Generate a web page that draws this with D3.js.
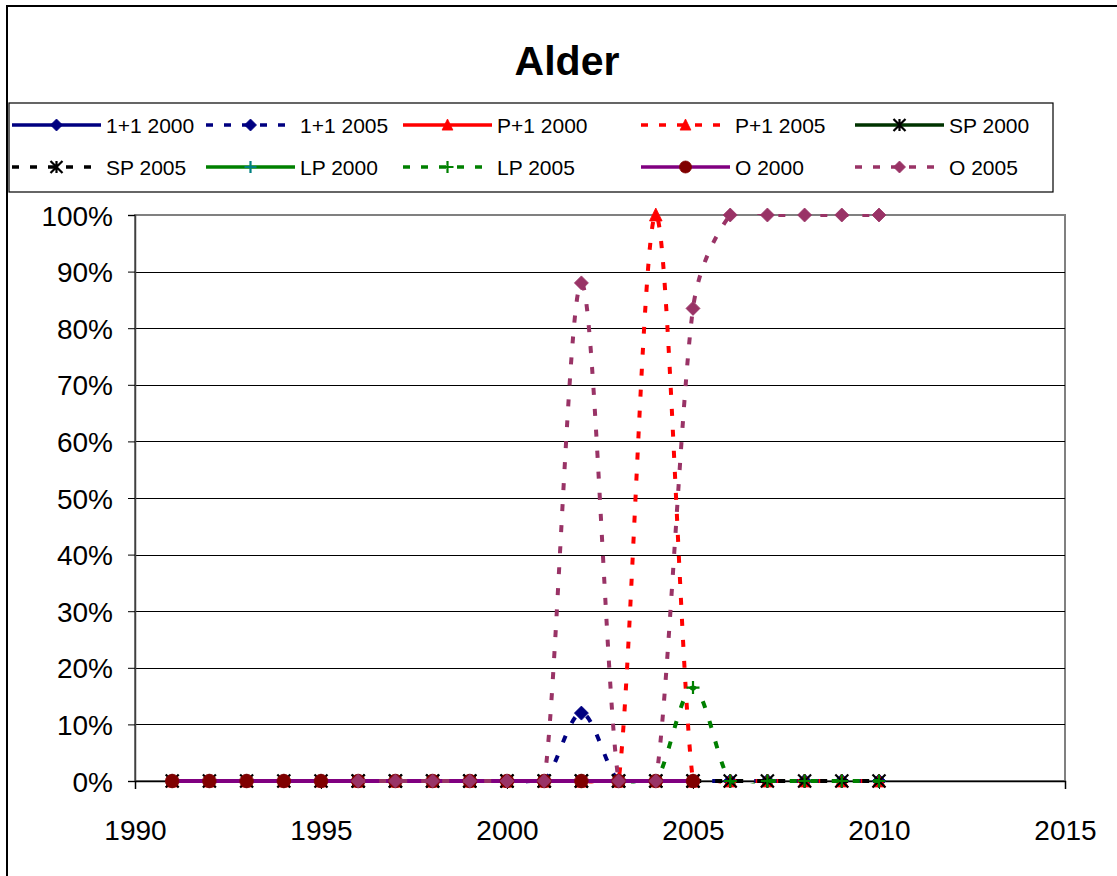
<!DOCTYPE html>
<html>
<head>
<meta charset="utf-8">
<script src="https://cdn.jsdelivr.net/npm/d3@7"></script>
<style>
  body { margin: 0; background: #fff; }
  svg { display: block; }
  text { font-family: "Liberation Sans", Arial, sans-serif; fill: #000; }
</style>
</head>
<body>
<svg id="chart" width="1117" height="876"></svg>
<script>
// ---- data -------------------------------------------------------------
const chartTitle = "Alder";

const years2000 = [1991, 1992, 1993, 1994, 1995, 1996, 1997, 1998, 1999, 2000, 2001, 2002, 2003, 2004, 2005];
const years2005 = [1996, 1997, 1998, 1999, 2000, 2001, 2002, 2003, 2004, 2005, 2006, 2007, 2008, 2009, 2010];

const oneOne2000 = [0, 0, 0, 0, 0, 0, 0, 0, 0, 0, 0, 0, 0, 0, 0];
const oneOne2005 = [0, 0, 0, 0, 0, 0, 0.12, 0, 0, 0, 0, 0, 0, 0, 0];
const pOne2000   = [0, 0, 0, 0, 0, 0, 0, 0, 0, 0, 0, 0, 0, 0, 0];
const pOne2005   = [0, 0, 0, 0, 0, 0, 0, 0, 1.00, 0, 0, 0, 0, 0, 0];
const sp2000     = [0, 0, 0, 0, 0, 0, 0, 0, 0, 0, 0, 0, 0, 0, 0];
const sp2005     = [0, 0, 0, 0, 0, 0, 0, 0, 0, 0, 0, 0, 0, 0, 0];
const lp2000     = [0, 0, 0, 0, 0, 0, 0, 0, 0, 0, 0, 0, 0, 0, 0];
const lp2005     = [0, 0, 0, 0, 0, 0, 0, 0, 0, 0.165, 0, 0, 0, 0, 0];
const o2000      = [0, 0, 0, 0, 0, 0, 0, 0, 0, 0, 0, 0, 0, 0, 0];
const o2005      = [0, 0, 0, 0, 0, 0, 0.88, 0, 0, 0.835, 1.00, 1.00, 1.00, 1.00, 1.00];

const seriesNames = ["1+1 2000", "1+1 2005", "P+1 2000", "P+1 2005", "SP 2000",
                     "SP 2005", "LP 2000", "LP 2005", "O 2000", "O 2005"];

const xTicks = [1990, 1995, 2000, 2005, 2010, 2015];
const yTicks = [0, 0.1, 0.2, 0.3, 0.4, 0.5, 0.6, 0.7, 0.8, 0.9, 1.0];

// ---- series styling -----------------------------------------------------
const seriesList = [
  { x: years2000, y: oneOne2000, color: "#000080", dashed: false, marker: "diamond",  mColor: "#000080" },
  { x: years2005, y: oneOne2005, color: "#000080", dashed: true,  marker: "diamond",  mColor: "#000080" },
  { x: years2000, y: pOne2000,   color: "#FF0000", dashed: false, marker: "triangle", mColor: "#FF0000" },
  { x: years2005, y: pOne2005,   color: "#FF0000", dashed: true,  marker: "triangle", mColor: "#FF0000" },
  { x: years2000, y: sp2000,     color: "#003300", dashed: false, marker: "star",     mColor: "#000000" },
  { x: years2005, y: sp2005,     color: "#000000", dashed: true,  marker: "star",     mColor: "#000000" },
  { x: years2000, y: lp2000,     color: "#008000", dashed: false, marker: "plus",     mColor: "#008080" },
  { x: years2005, y: lp2005,     color: "#008000", dashed: true,  marker: "plus",     mColor: "#008000" },
  { x: years2000, y: o2000,      color: "#800080", dashed: false, marker: "circle",   mColor: "#800000" },
  { x: years2005, y: o2005,      color: "#993366", dashed: true,  marker: "diamond",  mColor: "#993366" }
].map((s, i) => ({ ...s, name: seriesNames[i] }));

// ---- layout -------------------------------------------------------------
const W = 1117, H = 876;
const plot = { left: 135, right: 1065, top: 215, bottom: 781 };

const svg = d3.select("#chart");

const x = d3.scaleLinear().domain([1990, 2015]).range([plot.left, plot.right]);
const y = d3.scaleLinear().domain([0, 1]).range([plot.bottom, plot.top]);

// Excel-style smoothed line: Bezier segments whose control points follow
// the neighbouring points, damped where a segment is short.
function curveSmoothXL(context) {
  let pts = [];
  const dist = (a, b) => Math.hypot(a[0] - b[0], a[1] - b[1]);
  return {
    areaStart() {}, areaEnd() {},
    lineStart() { pts = []; },
    point(px, py) { pts.push([+px, +py]); },
    lineEnd() {
      const n = pts.length;
      if (!n) return;
      context.moveTo(pts[0][0], pts[0][1]);
      for (let i = 0; i < n - 1; i++) {
        const p1 = pts[i], p2 = pts[i + 1];
        const p0 = i > 0 ? pts[i - 1] : p1;
        const p3 = i < n - 2 ? pts[i + 2] : p2;
        const d12 = dist(p1, p2), d02 = dist(p0, p2), d13 = dist(p1, p3);
        const h = d12 / 2;
        let f1, f2;
        if (d02 / 6 < h && d13 / 6 < h) {
          f1 = p0 !== p1 ? 1 / 6 : 1 / 3;
          f2 = p2 !== p3 ? 1 / 6 : 1 / 3;
        } else if (d02 / 6 >= h && d13 / 6 >= h) {
          f1 = h / d02; f2 = h / d13;
        } else if (d02 / 6 >= h) {
          f1 = h / d02; f2 = h / d02;
        } else {
          f1 = h / d13; f2 = h / d13;
        }
        const b1 = [p1[0] + (p2[0] - p0[0]) * f1, p1[1] + (p2[1] - p0[1]) * f1];
        const b2 = [p2[0] - (p3[0] - p1[0]) * f2, p2[1] - (p3[1] - p1[1]) * f2];
        context.bezierCurveTo(b1[0], b1[1], b2[0], b2[1], p2[0], p2[1]);
      }
    }
  };
}

function markerPath(type, r) {
  switch (type) {
    case "diamond":  return `M0,${-r}L${r},0L0,${r}L${-r},0Z`;
    case "triangle": return `M0,${-r}L${r * 0.9},${r * 0.85}L${-r * 0.9},${r * 0.85}Z`;
    case "star":     return `M${-r},${-r}L${r},${r}M${-r},${r}L${r},${-r}M0,${-r}L0,${r}`;
    case "plus":     return `M${-r},0L${r},0M0,${-r}L0,${r}`;
    case "circle":   return d3.arc()({ innerRadius: 0, outerRadius: r, startAngle: 0, endAngle: 2 * Math.PI });
  }
}
function drawMarker(g, type, color, r) {
  const p = g.append("path").attr("d", markerPath(type, r));
  if (type === "star" || type === "plus") {
    p.attr("fill", "none").attr("stroke", color).attr("stroke-width", 2.2);
  } else {
    p.attr("fill", color).attr("stroke", color).attr("stroke-width", 0.8);
  }
}
const plotMarkerSize = { diamond: 7, triangle: 7, star: 6.5, plus: 6.5, circle: 6.8 };

// ---- chart frame --------------------------------------------------------
svg.append("rect").attr("x", 0).attr("y", 0).attr("width", W).attr("height", H).attr("fill", "#fff");
svg.append("rect")
  .attr("x", 7).attr("y", 6).attr("width", W + 20).attr("height", H + 20)
  .attr("fill", "#fff").attr("stroke", "#000").attr("stroke-width", 2);

svg.append("text")
  .attr("x", 567).attr("y", 75)
  .attr("text-anchor", "middle")
  .attr("font-size", 41).attr("font-weight", "bold")
  .text(chartTitle);

// ---- plot area ----------------------------------------------------------
svg.append("rect")
  .attr("x", plot.left).attr("y", plot.top)
  .attr("width", plot.right - plot.left).attr("height", plot.bottom - plot.top)
  .attr("fill", "#fff").attr("stroke", "#808080").attr("stroke-width", 2);

svg.append("g").selectAll("line")
  .data(yTicks.filter(t => t > 0 && t < 1))
  .join("line")
  .attr("x1", plot.left).attr("x2", plot.right)
  .attr("y1", d => Math.round(y(d)) + 0.5).attr("y2", d => Math.round(y(d)) + 0.5)
  .attr("stroke", "#000").attr("stroke-width", 1);

const yAxis = svg.append("g")
  .attr("transform", `translate(${plot.left},0)`)
  .call(d3.axisLeft(y).tickValues(yTicks).tickFormat(d3.format(".0%")).tickSize(7).tickPadding(15));
yAxis.select(".domain").attr("stroke", "#404040").attr("stroke-width", 1.5);
yAxis.selectAll(".tick line").attr("stroke", "#000").attr("stroke-width", 1);
yAxis.selectAll(".tick text").attr("font-size", 28).attr("font-family", "Liberation Sans, Arial, sans-serif").attr("dy", "0.36em");

const xAxis = svg.append("g")
  .attr("transform", `translate(0,${plot.bottom})`)
  .call(d3.axisBottom(x).tickValues(xTicks).tickFormat(d3.format("d")).tickSize(8).tickPadding(31));
xAxis.select(".domain").attr("stroke", "#000").attr("stroke-width", 1.5);
xAxis.selectAll(".tick line").attr("stroke", "#000").attr("stroke-width", 1);
xAxis.selectAll(".tick text").attr("font-size", 28).attr("font-family", "Liberation Sans, Arial, sans-serif");

// ---- series -------------------------------------------------------------
svg.append("defs").append("clipPath").attr("id", "plotClip")
  .append("rect")
  .attr("x", plot.left).attr("y", plot.top - 1)
  .attr("width", plot.right - plot.left).attr("height", plot.bottom - plot.top + 3.5);

const line = d3.line()
  .x(d => x(d[0]))
  .y(d => y(d[1]))
  .curve(curveSmoothXL);

const seriesLayer = svg.append("g");
seriesList.forEach(s => {
  const pts = s.x.map((xv, i) => [xv, s.y[i]]);
  const g = seriesLayer.append("g");
  g.append("path")
    .attr("clip-path", "url(#plotClip)")
    .attr("d", line(pts))
    .attr("fill", "none")
    .attr("stroke", s.color)
    .attr("stroke-width", 4)
    .attr("stroke-dasharray", s.dashed ? "7,14" : null);
  pts.forEach(p => {
    const mg = g.append("g").attr("transform", `translate(${x(p[0])},${y(p[1])})`);
    drawMarker(mg, s.marker, s.mColor, plotMarkerSize[s.marker]);
  });
});

// ---- legend -------------------------------------------------------------
const legendBox = { x: 9, y: 103, w: 1044, h: 89 };
svg.append("rect")
  .attr("x", legendBox.x).attr("y", legendBox.y)
  .attr("width", legendBox.w).attr("height", legendBox.h)
  .attr("fill", "#fff").attr("stroke", "#000").attr("stroke-width", 1.2);

const legendCols = [12, 206, 403, 641, 855];
const legendRows = [125, 167];
const sampleLen = 89;

seriesList.forEach((s, i) => {
  const cx = legendCols[i % 5];
  const cy = legendRows[Math.floor(i / 5)];
  const g = svg.append("g").attr("transform", `translate(${cx},${cy})`);
  g.append("line")
    .attr("x1", 0).attr("x2", sampleLen).attr("y1", 0).attr("y2", 0)
    .attr("stroke", s.color).attr("stroke-width", 3.5)
    .attr("stroke-dasharray", s.dashed ? "7,11" : null);
  const mg = g.append("g").attr("transform", `translate(${sampleLen / 2},0)`);
  drawMarker(mg, s.marker, s.mColor, 6);
  g.append("text")
    .attr("x", sampleLen + 5).attr("y", 0).attr("dy", "0.36em")
    .attr("font-size", 21)
    .text(s.name);
});
</script>
</body>
</html>
